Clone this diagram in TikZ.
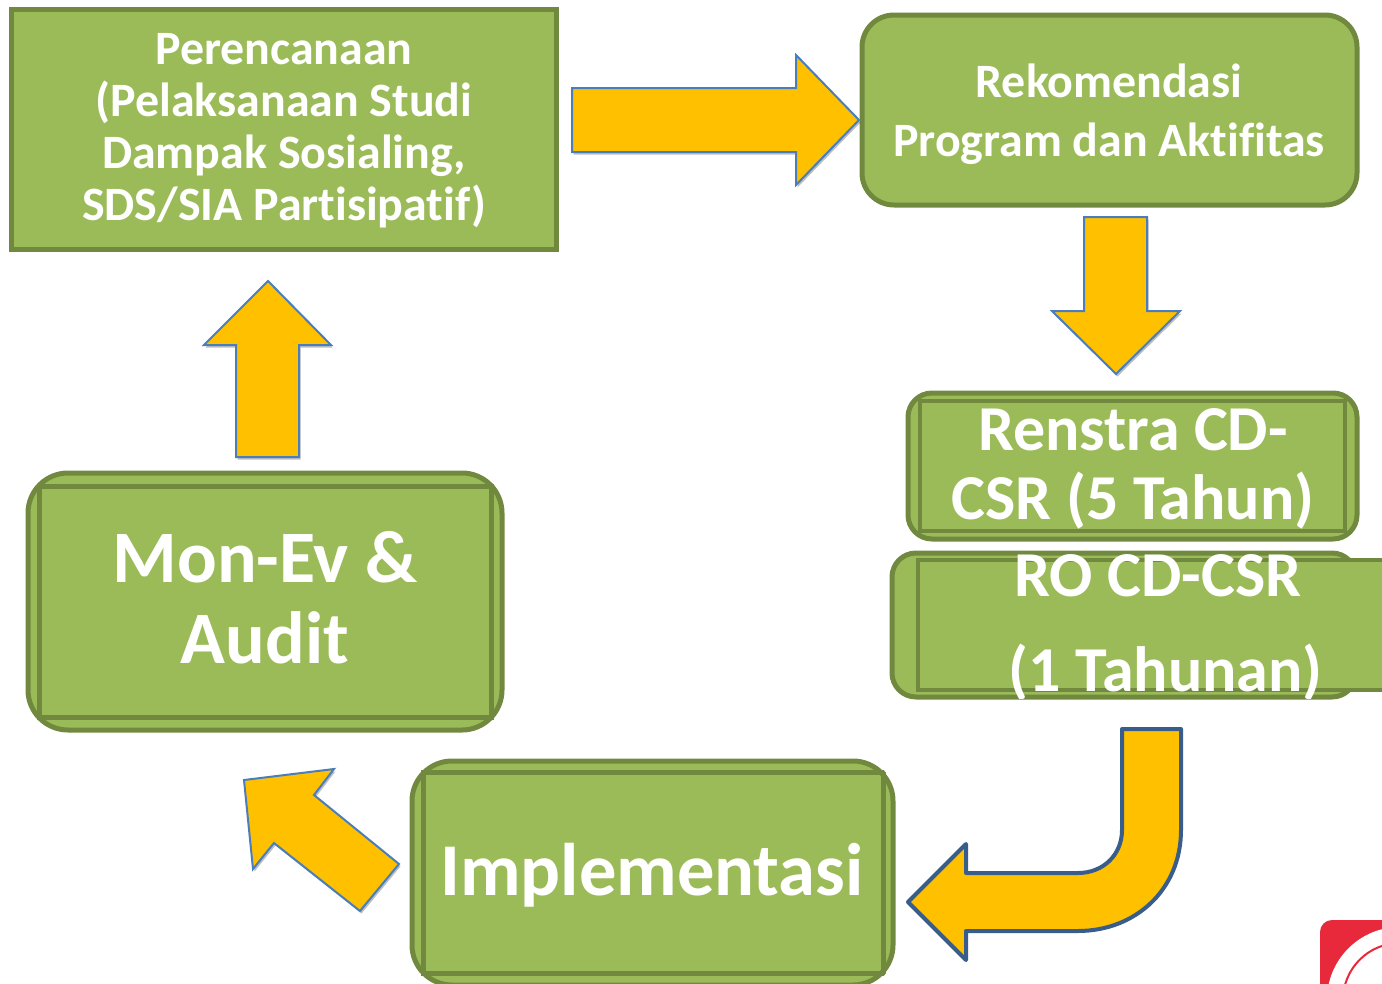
\documentclass[tikz,border=0pt]{standalone}
\usetikzlibrary{shadows}
\usepackage{fontspec}
\setmainfont{Carlito}[Ligatures=NoCommon]
\definecolor{boxfill}{HTML}{9BBB59}
\definecolor{boxline}{HTML}{71893F}
\definecolor{arrowfill}{HTML}{FFC000}
\definecolor{arrowline}{HTML}{4A7EBB}
\definecolor{bentline}{HTML}{385D8A}
\definecolor{logored}{HTML}{E8293B}
\newcommand{\fs}[2]{\fontsize{#1}{#2}\selectfont}
\tikzset{
  boxstyle/.style={fill=boxfill,draw=boxline,line width=5pt},
  innerline/.style={draw=boxline,line width=5pt},
  blockarrow/.style={fill=arrowfill,draw=arrowline,line width=2pt,line join=miter,
    drop shadow={shadow xshift=1.5pt,shadow yshift=-2.5pt,opacity=.25,fill=black}},
  bentarrow/.style={fill=arrowfill,draw=bentline,line width=4pt,line join=round},
  label/.style={text=white,align=center,inner sep=0pt},
}
\begin{document}
\begin{tikzpicture}[x=1pt,y=-1pt]
\useasboundingbox (0,0) rectangle (1382,983);
\clip (0,0) rectangle (1382,983);
% Logo
\fill[logored,rounded corners=12pt] (1320,920) rectangle (1420,1020);
\fill[white] (1400,1000) circle (73);
\draw[logored,line width=2pt] (1400,1000) circle (57);
% Boxes
\draw[boxstyle,line width=4.4pt] (11.5,9.5) rectangle (556.5,249.5);
\node[label,font={\bfseries\fs{47.9}{52}}] (plan) at (284,131) {Perencanaan\\(Pelaksanaan Studi\\Dampak Sosialing,\\SDS/SIA Partisipatif)};
\draw[boxstyle,rounded corners=32pt] (862,15) rectangle (1357,205);
\node[label,font={\bfseries\fs{47.9}{59}}] (rek) at (1109,114) {Rekomendasi\\Program dan Aktifitas};
% Renstra
\draw[boxstyle,rounded corners=24pt] (908,393) rectangle (1357,539);
\begin{scope}
\clip[rounded corners=24pt] (905.5,390.5) rectangle (1359.5,541.5);
\draw[innerline,line width=4.5pt] (920,401) rectangle (1345,531);
\end{scope}
\node[label,font={\bfseries\fs{64}{69}}] (ren) at (1133,469) {Renstra CD-\\CSR (5 Tahun)};
% RO
\draw[boxstyle,rounded corners=24pt] (892,553) rectangle (1356,697);
\fill[boxfill] (918,559) rectangle (1382,692);
\draw[boxline,line width=4.5pt] (1382,560) -- (918,560) -- (918,690) -- (1382,690);
\begin{scope}
\clip (880,540) rectangle (1382,698);
\node[label,font={\bfseries\fs{64}{95}}] (ro) at (1165.5,628) {RO CD-CSR\hspace*{15pt}\\(1 Tahunan)};
\end{scope}
% Mon-Ev
\draw[boxstyle,rounded corners=40pt] (28,473) rectangle (502,730);
\draw[innerline] (39,486) rectangle (491,717);
\node[label,font={\bfseries\fs{74}{81}}] (mon) at (265,598) {Mon-Ev \&\\Audit};
% Implementasi
\draw[boxstyle,rounded corners=40pt] (412,761) rectangle (893,985);
\begin{scope}
\clip[rounded corners=40pt] (409.5,758.5) rectangle (895.5,987.5);
\draw[innerline] (423,772) rectangle (883,973);
\end{scope}
\node[label,font={\bfseries\fs{74.5}{85}}] (imp) at (652,875) {Implementasi};
% Block arrows
\draw[blockarrow] (572,88) -- (796,88) -- (796,55) -- (859,120) -- (796,185) -- (796,152) -- (572,152) -- cycle;
\draw[blockarrow] (1084,217) -- (1147,217) -- (1147,311) -- (1180,311) -- (1116,374) -- (1052,311) -- (1084,311) -- cycle;
\draw[blockarrow] (268,281) -- (331,345) -- (299,345) -- (299,457) -- (236,457) -- (236,345) -- (204,345) -- cycle;
\draw[blockarrow] (244,780) -- (334,769) -- (314,795) -- (399,864) -- (360,911) -- (274,843) -- (253,869) -- cycle;
\draw[bentarrow] (1122,729) -- (1181,729) -- (1181,830) .. controls (1181,890) and (1135,931) .. (1078,931) -- (966,931) -- (966,960) -- (908,902) -- (966,844) -- (966,873) -- (1078,873) .. controls (1103,873) and (1122,855) .. (1122,830) -- cycle;
\end{tikzpicture}
\end{document}
